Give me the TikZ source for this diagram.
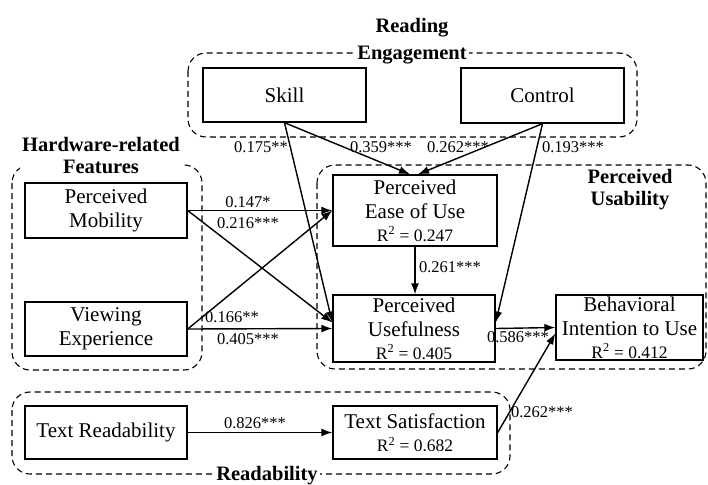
\documentclass[tikz,border=0pt]{standalone}
\usepackage{fontspec}
\setmainfont{Liberation Serif}
\usetikzlibrary{arrows.meta}
\usetikzlibrary{positioning}

\tikzset{
  box/.style={draw, line width=1.4pt, inner sep=0pt, align=center,
    font=\fontsize{21}{24}\selectfont},
  grp/.style={draw, line width=1.1pt, dash pattern=on 6pt off 4pt, rounded corners=18pt},
  ttl/.style={font=\bfseries\fontsize{20.5}{22}\selectfont, align=center, inner sep=2pt},
  arr/.style={line width=1.4pt, -{Latex[length=11pt,width=8pt]}},
  coef/.style={font=\fontsize{16.5}{18}\selectfont, inner sep=0pt},
}
\newcommand{\rsq}[1]{{\fontsize{17.5}{20}\selectfont R\textsuperscript{2} = #1}}

\begin{document}
\begin{tikzpicture}[x=1pt,y=-1pt]
\useasboundingbox (0,0) rectangle (708,484);

    % the four dashed groups
    \draw[grp] (188,53) rectangle (637,137);
    \draw[grp] (12,165) rectangle (202,370);
    \draw[grp] (317,165) rectangle (706,369);
    \draw[grp] (12,392) rectangle (510,474);

    % group titles, white ones break the dashed line
    \node[ttl, fill=white, font=\bfseries\fontsize{20.5}{27}\selectfont] (engttl) at (412,41) {Reading\\Engagement};
    \node[ttl, fill=white] (hwttl) at (101,156) {Hardware-related\\Features};
    \node[ttl] (usttl) at (630,190) {Perceived\\Usability};
    \node[ttl, fill=white] (rdttl) at (267,476) {Readability};

    % constructs
    \node[box, minimum width=163pt, minimum height=54pt] (skill) at (284.5,95) {Skill};
    \node[box, minimum width=163pt, minimum height=55pt] (ctrl) at (542.5,95.5) {Control};
    \node[box, minimum width=162pt, minimum height=55pt] (mob) at (106,210.5) {Perceived\\Mobility};
    \node[box, minimum width=162pt, minimum height=54pt] (view) at (106,329) {Viewing\\Experience};
    \node[box, minimum width=164pt, minimum height=71pt] (ease) at (415,210.5) {Perceived\\Ease of Use\\[-1pt]\rsq{0.247}};
    \node[box, minimum width=162pt, minimum height=67pt] (use) at (414,328.5) {Perceived\\Usefulness\\[-1pt]\rsq{0.405}};
    \node[box, minimum width=147pt, minimum height=65pt] (behav) at (629.5,327.5) {Behavioral\\Intention to Use\\[-1pt]\rsq{0.412}};
    \node[box, minimum width=162pt, minimum height=53pt] (tread) at (106,432.5) {Text Readability};
    \node[box, minimum width=164pt, minimum height=53pt] (tsat) at (415,432.5) {Text Satisfaction\\[-1pt]\rsq{0.682}};

    % paths
    \draw[arr] (skill.south) -- ([xshift=-5pt]ease.north);
    \draw[arr] (ctrl.south) -- ([xshift=3pt]ease.north);
    \draw[arr] (skill.south) -- ([yshift=6pt]use.west);
    \draw[arr] (ctrl.south) -- ([yshift=6pt]use.east);
    \draw[arr] (mob.east) -- (ease.west);
    \draw[arr] (mob.east) -- ([yshift=6pt]use.west);
    \draw[arr] (view.east) -- (ease.west);
    \draw[arr] (view.east) -- (use.west);
    \draw[arr] (ease.south) -- (ease.south |- use.north);
    \draw[arr] (use.east) -- (behav.west);
    \draw[arr] (tread.east) -- (tsat.west);
    \draw[arr] (tsat.east) -- ([yshift=-6pt]behav.west);

    % path coefficients
    \node[coef] (c1) at (261,147) {0.175**};
    \node[coef] (c2) at (381,147) {0.359***};
    \node[coef] (c3) at (458,147) {0.262***};
    \node[coef] (c4) at (573,147) {0.193***};
    \node[coef] (c5) at (248,202) {0.147*};
    \node[coef] (c6) at (248,223) {0.216***};
    \node[coef] (c7) at (232,317) {0.166**};
    \node[coef] (c8) at (248,339) {0.405***};
    \node[coef] (c9) at (450,267) {0.261***};
    \node[coef] (c10) at (518,337) {0.586***};
    \node[coef] (c11) at (542,412) {0.262***};
    \node[coef] (c12) at (255,423) {0.826***};

\end{tikzpicture}
\end{document}
